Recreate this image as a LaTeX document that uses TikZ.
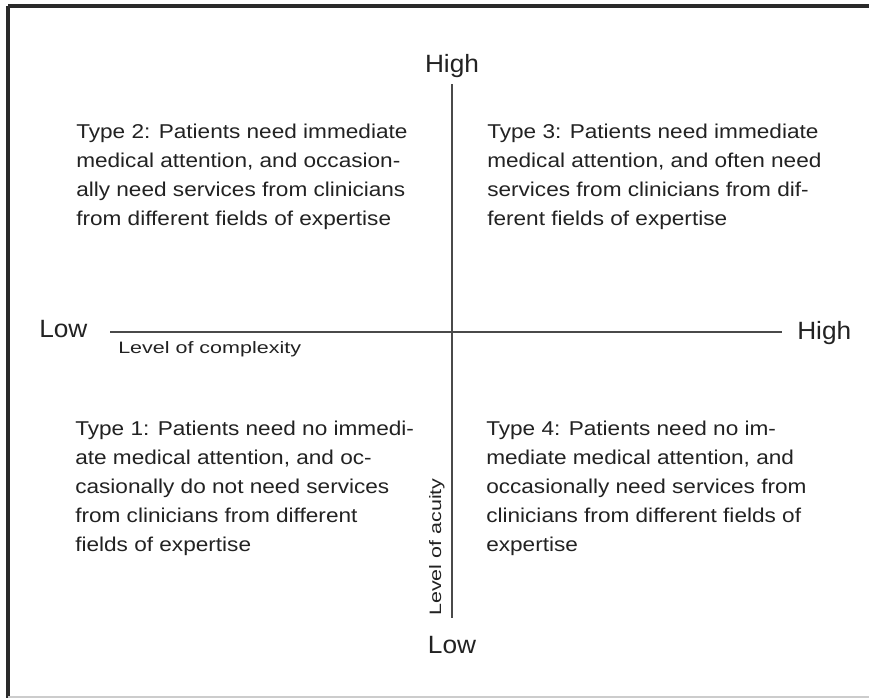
\documentclass[tikz,border=0pt]{standalone}
\usepackage{fontspec}
\setmainfont{Liberation Sans}
\newfontfamily\endfont[FakeStretch=1.05]{Liberation Sans}
\newfontfamily\quadfont[FakeStretch=1.13]{Liberation Sans}
\newfontfamily\axisfont[FakeStretch=1.3]{Liberation Sans}
\definecolor{ink}{HTML}{222222}
\definecolor{axisgray}{HTML}{4A4A4A}
\definecolor{framegray}{HTML}{2A2A2A}
\begin{document}
\begin{tikzpicture}[x=0.75pt,y=-0.75pt,
  endlabel/.style={font=\endfont\fontsize{18.75}{22}\selectfont, text=ink, inner sep=0pt},
  quadtext/.style={font=\quadfont\fontsize{15}{21.75}\selectfont, text=ink, inner sep=0pt, align=left, anchor=north west},
  axistitle/.style={font=\axisfont\fontsize{12.4}{14}\selectfont, text=ink, inner sep=0pt},
  axisline/.style={draw=axisgray, line width=1.5pt}]
\useasboundingbox (0,0) rectangle (869,700);
\fill[white] (0,0) rectangle (869,700);

% frame (top and left heavy, bottom light)
\draw[framegray, line width=2.8pt] (8,6) -- (869,6);
\draw[framegray, line width=2.8pt] (8,6) -- (8,698);
\draw[gray!40, line width=1.2pt] (8,697) -- (869,697);

% axis ends
\coordinate (vtop) at (452,84);
\coordinate (vbot) at (452,618);
\coordinate (hleft) at (110,332);
\coordinate (hright) at (782,332);
\draw[axisline] (vtop) -- (vbot);
\draw[axisline] (hleft) -- (hright);

% end labels
\node[endlabel, anchor=base] (acuityhigh) at (452,72) {High};
\node[endlabel, anchor=base] (acuitylow) at (452,653) {Low};
\node[endlabel, anchor=base west] (complow) at (39,337) {Low};
\node[endlabel, anchor=base west] (comphigh) at (797,339) {High};

% axis titles
\node[axistitle, anchor=base west] (comptitle) at (118,353) {Level of complexity};
\node[axistitle, anchor=base west, rotate=90] (acuitytitle) at (441,616) {Level of acuity};

% quadrant descriptions
\node[quadtext] (type2) at (76,124) {Type 2: Patients need immediate\\medical attention, and occasion-\\ally need services from clinicians\\from different fields of expertise};
\node[quadtext] (type3) at (487,124) {Type 3: Patients need immediate\\medical attention, and often need\\services from clinicians from dif-\\ferent fields of expertise};
\node[quadtext] (type1) at (75,421) {Type 1: Patients need no immedi-\\ate medical attention, and oc-\\casionally do not need services\\from clinicians from different\\fields of expertise};
\node[quadtext] (type4) at (486,421) {Type 4: Patients need no im-\\mediate medical attention, and\\occasionally need services from\\clinicians from different fields of\\expertise};
\end{tikzpicture}
\end{document}
